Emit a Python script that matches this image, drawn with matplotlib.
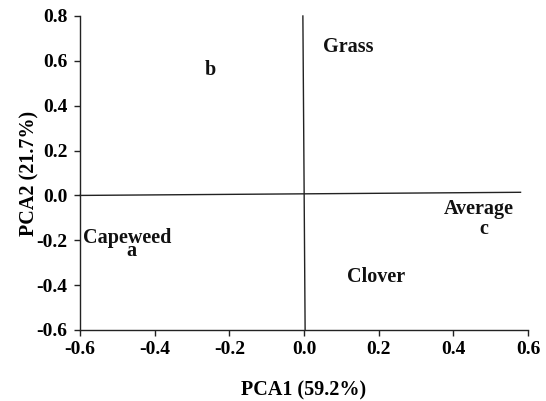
import matplotlib
matplotlib.use("Agg")
import matplotlib.pyplot as plt

labels = ["Grass", "b", "Average", "c", "Capeweed", "a", "Clover"]
xs = [0.118, -0.252, 0.469, 0.482, -0.474, -0.463, 0.193]
ys = [0.662, 0.559, -0.06, -0.150, -0.19, -0.25, -0.364]

xticks = [-0.6, -0.4, -0.2, 0.0, 0.2, 0.4, 0.6]
yticks = [-0.6, -0.4, -0.2, 0.0, 0.2, 0.4, 0.6, 0.8]

plt.rcParams['font.family'] = ['Liberation Serif', 'DejaVu Serif']
plt.rcParams['font.weight'] = 'bold'

fig = plt.figure(figsize=(5.46, 4.01), dpi=100)
ax = fig.add_axes([80/546, 1-330/401, 448/546, 314/401])
ax.set_xlim(-0.6, 0.6)
ax.set_ylim(-0.6, 0.8)
ax.spines['top'].set_visible(False)
ax.spines['right'].set_visible(False)
for s in ['left', 'bottom']:
    ax.spines[s].set_linewidth(1.0)
    ax.spines[s].set_color('#222222')
ax.set_xticks(xticks)
ax.set_yticks(yticks)
ax.set_xticklabels([f"{v:.1f}" for v in xticks], fontsize=14, fontweight='bold')
ax.set_yticklabels([f"{v:.1f}" for v in yticks], fontsize=14, fontweight='bold')
ax.tick_params(direction='out', length=4, width=1, color='#222222')
ax.tick_params(axis='y', pad=5)
ax.tick_params(axis='x', pad=4)

# reference axes lines
ax.plot([-0.6, 0.58], [0.0, 0.014], color='#222222', lw=1.0, clip_on=False)
ax.plot([-0.003, 0.003], [0.8, -0.6], color='#222222', lw=1.0, clip_on=False)

for t, x, y in zip(labels, xs, ys):
    ax.text(x, y, t, ha='center', va='center', fontsize=14.5, fontweight='bold', color='#111111')

ax.set_xlabel("PCA1 (59.2%)", fontsize=14.5, fontweight='bold', labelpad=16)
ax.set_ylabel("PCA2 (21.7%)", fontsize=14.5, fontweight='bold', labelpad=-2)

fig.savefig("out.png", dpi=100)
